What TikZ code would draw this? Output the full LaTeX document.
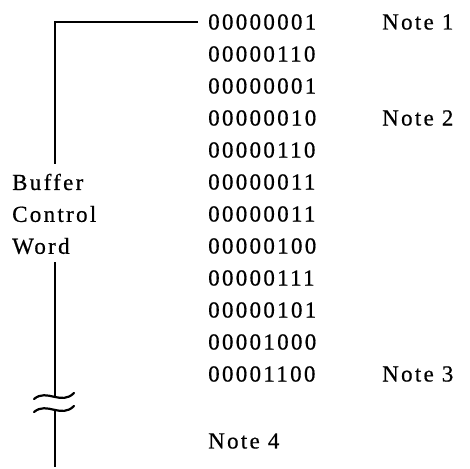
\documentclass[tikz,border=0pt]{standalone}
\usepackage{fontspec}
\setmainfont{Liberation Serif}[LetterSpace=10, FakeBold=0.6]
\usetikzlibrary{positioning}
\tikzset{
  word/.style  = {anchor=west, inner sep=0pt, font=\fontsize{23}{26}\selectfont},
  note/.style  = {word},
  lbl/.style   = {word},
  lead/.style  = {line width=2.2pt, line cap=butt},
  brk/.style   = {line width=2.2pt, line cap=round},
}

\begin{document}
\begin{tikzpicture}[x=1pt, y=-1pt]
  \useasboundingbox (0,0) rectangle (470,468);

  % ---- the buffer control words ---------------------------------------
  \foreach \i/\w in {1/00000001, 2/00000110, 3/00000001, 4/00000010,
                     5/00000110, 6/00000011, 7/00000011, 8/00000100,
                     9/00000111, 10/00000101, 11/00001000, 12/00001100}
    \node[word] (r\i) at (208, {22+32*(\i-1)}) {\w};

  % ---- notes -----------------------------------------------------------
  \node[note] (n1) at (382, 22)  {Note 1};
  \node[note] (n2) at (382, 118) {Note 2};
  \node[note] (n3) at (382, 374) {Note 3};
  \node[note] (n4) at (208, 441) {Note 4};

  % ---- label on the left -----------------------------------------------
  \node[lbl] (buf)  at (12, 182) {Buffer};
  \node[lbl] (ctl)  at (12, 214) {Control};
  \node[lbl] (wrd)  at (12, 246) {Word};

  % ---- bracket line with break mark ------------------------------------
  \coordinate (corner) at (55, 22);
  \coordinate (gapT)   at (55, 164);
  \coordinate (gapB)   at (55, 262);
  \coordinate (brkT)   at (55, 397);
  \coordinate (brkB)   at (55, 410);
  \coordinate (bot)    at (55, 467);

  \draw[lead, shorten <=10pt] (r1.west) -- (corner) -- (gapT);
  \draw[lead] (gapB) -- (brkT);
  \draw[lead] (brkB) -- (bot);
  \foreach \c in {brkT, brkB}
    \draw[brk] ([shift={(-21,2)}]\c) .. controls ([shift={(-8,-9)}]\c)
      and ([shift={(6,9)}]\c) .. ([shift={(19,-4)}]\c);

\end{tikzpicture}
\end{document}
